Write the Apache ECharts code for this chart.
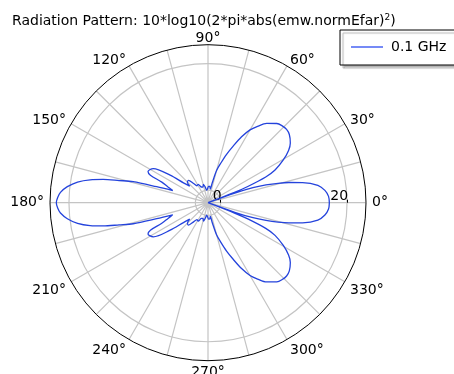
<!DOCTYPE html>
<html>
<head>
<meta charset="utf-8">
<style>html,body{margin:0;padding:0;background:#fff;}#c{width:454px;height:374px;}</style>
<script src="https://cdn.jsdelivr.net/npm/echarts@6/dist/echarts.min.js"></script>
</head>
<body>
<div id="c"></div>
<script>
// Radiation pattern: angle (deg) and value (dB)
const angles = [
  0, 3, 6, 9, 12, 14, 15.5, 17, 18.5, 19.7, 20.5, 21.3, 22.2, 24, 26, 29.6, 33, 36, 40, 43, 46, 49, 53.5, 57, 60, 63, 66, 69, 72, 75, 78, 80.5,
  84, 88, 92, 96, 100, 104, 108, 113, 118, 123, 127, 131, 135, 138, 141, 144, 148, 150.5, 152.5, 154.5, 156, 158.5, 161, 162.7, 164.3, 166, 167.5, 169, 171, 173.5, 176, 178,
  180, 182, 184, 186.5, 189, 191, 192.5, 194, 195.7, 197.3, 199, 201.5, 204, 205.5, 207.5, 209.5, 212, 216, 219, 222, 225, 229, 233, 237, 242, 247, 252, 256, 260, 264, 268, 272, 276,
  279.5, 282, 285, 288, 291, 294, 297, 300, 303, 306.5, 311, 314, 317, 320, 324, 327, 330.4, 334, 336, 337.8, 338.7, 339.5, 340.3, 341.5, 343, 344.5, 346, 348, 351, 354, 357, 360
];
const values = [
  17.2, 17.1, 16.6, 15.6, 13.3, 11.2, 9.5, 7.6, 5.5, 2.5, -2, 2.5, 4.8, 8.0, 9.8, 11.7, 13.2, 14.1, 14.8, 15.0, 14.9, 14.6, 13.6, 12.4, 11.3, 9.7, 7.8, 6.2, 4.6, 3.3, 1.2, 0.2,
  0.6, 0.6, 0.2, 0.0, 0.5, 1.0, 0.6, 0.7, 1.3, 1.2, 1.8, 2.7, 2.6, 1.9, 3.0, 5.4, 8.2, 8.6, 8.7, 8.1, 6.0, 4.8, 3.9, 6.5, 10.3, 12.5, 15.0, 17.0, 18.9, 20.4, 21.4, 21.8,
  22.0, 21.8, 21.4, 20.4, 18.9, 17.0, 15.0, 12.5, 10.3, 6.5, 3.9, 4.8, 6.0, 8.1, 8.7, 8.6, 8.2, 5.4, 3.0, 1.9, 2.6, 2.7, 1.8, 1.2, 1.3, 0.7, 0.6, 1.0, 0.5, 0.0, 0.2, 0.6, 0.6,
  0.2, 1.2, 3.3, 4.6, 6.2, 7.8, 9.7, 11.3, 12.4, 13.6, 14.6, 14.9, 15.0, 14.8, 14.1, 13.2, 11.7, 9.8, 8.0, 4.8, 2.5, -2, 2.5, 5.5, 7.6, 9.5, 11.2, 13.3, 15.6, 16.6, 17.1, 17.2
];
const radiusTicks = [0, 20];
const angleLabelStep = 30;
const seriesName = '0.1 GHz';
const titleMain = 'Radiation Pattern: 10*log10(2*pi*abs(emw.normEfar)';

const data = angles.map((a, i) => [values[i], a]);
const FONT = 'DejaVu Sans';
const BLUE = '#2443dc';
const chart = echarts.init(document.getElementById('c'), null, {renderer: 'canvas'});
chart.setOption({
  animation: false,
  backgroundColor: '#fff',
  textStyle: {fontFamily: FONT},
  title: {
    left: 12, top: 13, padding: 0,
    text: '{a|' + titleMain + '}{s|2}{a|)}',
    textStyle: {
      fontWeight: 'normal',
      rich: {
        a: {fontFamily: FONT, fontSize: 14, color: '#000', fontWeight: 'normal', lineHeight: 16},
        s: {fontFamily: FONT, fontSize: 9, color: '#000', fontWeight: 'normal', verticalAlign: 'top', lineHeight: 16, padding: [0, 0, 8, 0]}
      }
    }
  },
  legend: {
    left: 340, top: 30,
    orient: 'vertical',
    data: [{name: seriesName, icon: 'rect'}],
    itemWidth: 32, itemHeight: 1.2, itemGap: 0,
    padding: [10, 30, 11, 11],
    backgroundColor: '#fff', borderColor: '#000', borderWidth: 1,
    shadowColor: '#b4b4b4', shadowOffsetX: 3, shadowOffsetY: 3, shadowBlur: 1,
    itemStyle: {color: '#1a3cf0'},
    textStyle: {fontFamily: FONT, fontSize: 14, color: '#000', padding: [0, 0, 0, 3], lineHeight: 14}
  },
  polar: {center: [208, 202.7], radius: 158},
  angleAxis: {
    type: 'value', min: 0, max: 360, interval: 15,
    startAngle: 0, clockwise: false,
    axisLine: {show: true, lineStyle: {color: '#000', width: 1}},
    axisTick: {show: false},
    axisLabel: {
      show: true, margin: 6, color: '#000', fontSize: 14, fontFamily: FONT, lineHeight: 1, padding: [5, 0, 0, 0],
      formatter: v => (v % angleLabelStep === 0 && v < 360) ? v + '°' : ''
    },
    splitLine: {show: true, lineStyle: {color: '#c4c4c4', width: 1.2}}
  },
  radiusAxis: {
    type: 'value', min: -2, max: 23,
    axisLine: {show: false},
    axisTick: {show: true, customValues: radiusTicks, length: 3, inside: true, lineStyle: {color: '#000'}},
    axisLabel: {show: true, customValues: radiusTicks, color: '#000', fontSize: 14, fontFamily: FONT, margin: -1, align: 'right', verticalAlign: 'bottom', inside: true, padding: [0, -1, 0, 0]},
    splitLine: {show: true, lineStyle: {color: '#c4c4c4', width: 1.2}}
  },
  series: [{
    name: seriesName,
    type: 'line',
    coordinateSystem: 'polar',
    data: data,
    symbol: 'none',
    smooth: 0.3,
    lineStyle: {color: BLUE, width: 1.3},
    itemStyle: {color: BLUE}
  }]
});
</script>
</body>
</html>
